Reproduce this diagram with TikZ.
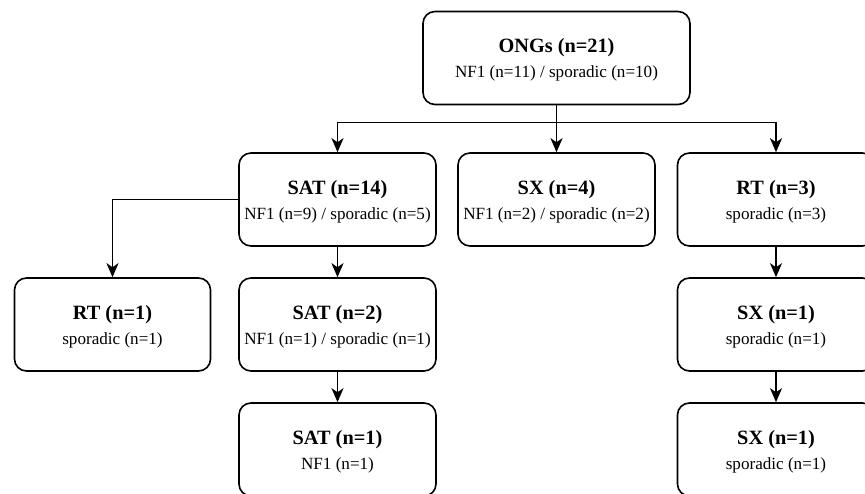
\documentclass[tikz,border=0pt]{standalone}
\usepackage{fontspec}
\setmainfont{Liberation Serif}
\usetikzlibrary{arrows.meta}
\tikzset{
  box/.style={draw, rounded corners=12pt, line width=1.6pt, minimum width=197pt, minimum height=93pt, inner sep=0pt},
  ttl/.style={anchor=base, inner sep=0pt, font=\fontsize{20.3}{22}\selectfont\bfseries},
  sub/.style={anchor=base, inner sep=0pt, font=\fontsize{17.1}{19}\selectfont},
  arr/.style={line width=1.5pt, -{Stealth[length=14pt,width=12pt,inset=4pt]}}
}
\newcommand{\mybox}[5]{%
  \node[box,#2] (#1) at #3 {};
  \node[ttl] (#1t) at ([yshift=5pt]#1.center) {#4};
  \node[sub] (#1s) at ([yshift=-20pt]#1.center) {#5};
}
\begin{document}
\begin{tikzpicture}[x=1pt,y=-1pt]
\useasboundingbox (0,0) rectangle (865,494);
\clip (0,0) rectangle (865,494);
\fill[white] (0,0) rectangle (865,494);
\mybox{ongs}{minimum width=267pt}{(556.5,58)}{ONGs (n=21)}{NF1 (n=11) / sporadic (n=10)}
\mybox{sat14}{}{(337.5,199.5)}{SAT (n=14)}{NF1 (n=9) / sporadic (n=5)}
\mybox{sx4}{}{(556.5,199.5)}{SX (n=4)}{NF1 (n=2) / sporadic (n=2)}
\mybox{rt3}{}{(776,199.5)}{RT (n=3)}{sporadic (n=3)}
\mybox{rt1}{minimum width=196pt}{(112.5,324.5)}{RT (n=1)}{sporadic (n=1)}
\mybox{sat2}{}{(337.5,324.5)}{SAT (n=2)}{NF1 (n=1) / sporadic (n=1)}
\mybox{sx1a}{}{(776,324.5)}{SX (n=1)}{sporadic (n=1)}
\mybox{sat1}{}{(337.5,449.5)}{SAT (n=1)}{NF1 (n=1)}
\mybox{sx1b}{}{(776,449.5)}{SX (n=1)}{sporadic (n=1)}
\coordinate (j) at ([yshift=-17pt]ongs.south);
\draw[arr] (ongs.south) -- (sx4.north);
\draw[arr] (ongs.south) -- (j) -| (sat14.north);
\draw[arr] (ongs.south) -- (j) -| (rt3.north);
\draw[arr] (sat14.west) -| (rt1.north);
\draw[arr] (sat14.south) -- (sat2.north);
\draw[arr] (sat2.south) -- (sat1.north);
\draw[arr] (rt3.south) -- (sx1a.north);
\draw[arr] (sx1a.south) -- (sx1b.north);
\end{tikzpicture}
\end{document}
